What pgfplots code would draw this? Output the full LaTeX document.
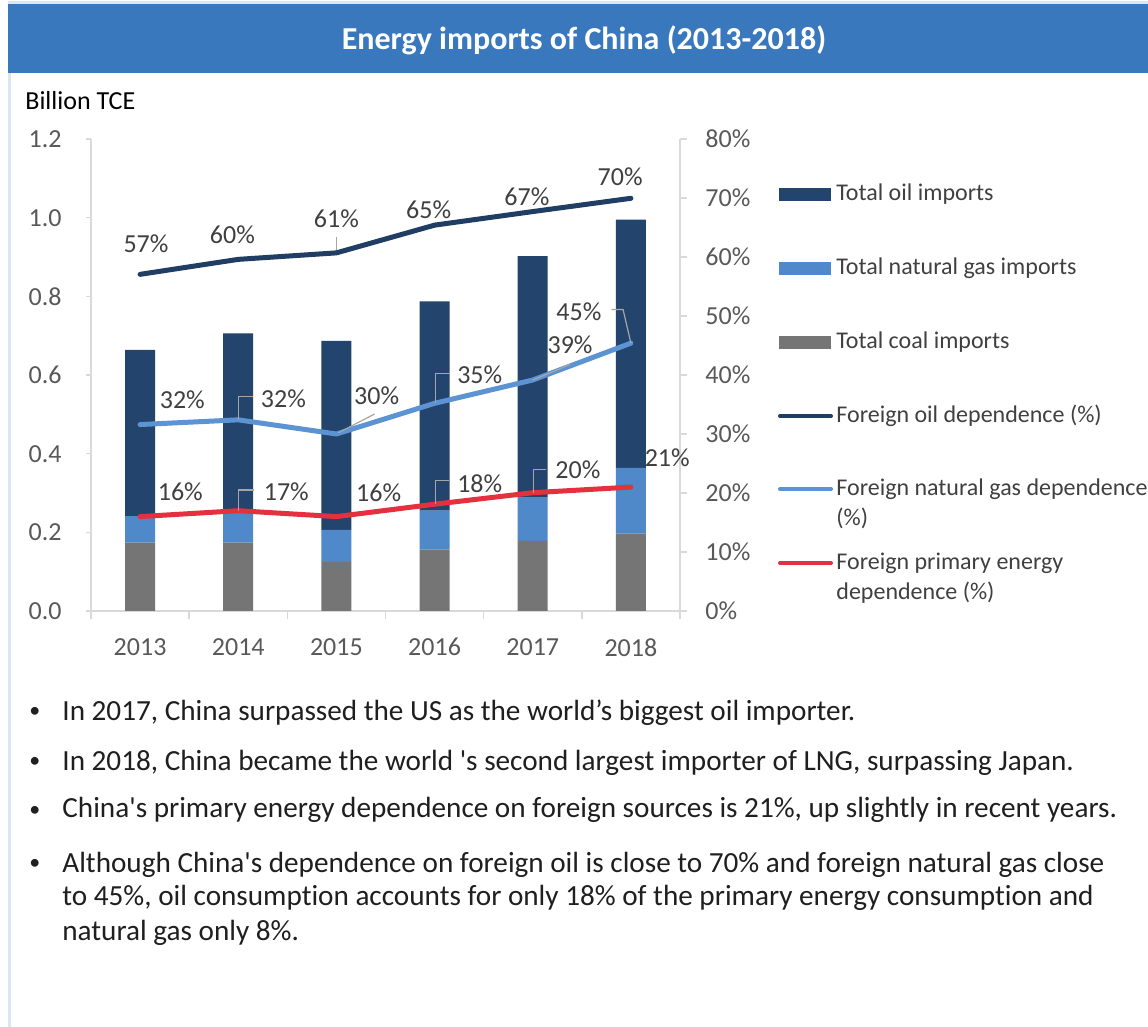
\documentclass[border=0pt]{standalone}
\usepackage{pgfplots}
\pgfplotsset{compat=1.18}
\usepackage{fontspec}
\setmainfont{Carlito}[Ligatures={TeXOff,NoCommon}]

\definecolor{titleblue}{HTML}{3A78BD}
\definecolor{borderblue}{HTML}{DCE6F2}
\definecolor{oilbar}{HTML}{23446C}
\definecolor{gasbar}{HTML}{4F89C9}
\definecolor{coalbar}{HTML}{757575}
\definecolor{oilline}{HTML}{203D64}
\definecolor{gasline}{HTML}{5B93D3}
\definecolor{redline}{HTML}{E5313F}
\definecolor{axisgray}{HTML}{D9D9D9}
\definecolor{tickgray}{HTML}{595959}
\definecolor{labelgray}{HTML}{404040}
\definecolor{leadergray}{HTML}{A6A6A6}

\begin{document}
\begin{tikzpicture}[
  lbl/.style={font=\fontsize{13}{15}\selectfont, text=labelgray, inner sep=0pt},
  leader/.style={leadergray, line width=0.6pt},
  txt/.style={anchor=west, inner sep=0pt, text height=0.64em, text depth=0pt},
]
\path[use as bounding box] (0,0) rectangle (574pt,-513.5pt);

% frame and title (pixel units)
\begin{scope}[x=0.5pt, y=-0.5pt]
  \fill[white] (0,0) rectangle (1148,1027);
  \fill[borderblue] (8,1) rectangle (1148,4);
  \fill[titleblue] (8,4) rectangle (1148,73);
  \fill[borderblue] (8,73) rectangle (11,1027);
  \node[text=white, font=\bfseries\fontsize{16}{18}\selectfont] at (584,40) {Energy imports of China (2013-2018)};
  \node[txt, font=\fontsize{13}{15}\selectfont, text=black] at (25,103) {Billion TCE};
\end{scope}

% bars, left axis
\begin{axis}[
  at={(45.5pt,-305.5pt)}, anchor=south west,
  scale only axis, width=294.5pt, height=236pt,
  xmin=-0.5, xmax=5.5, ymin=0, ymax=1.2,
  ybar stacked, bar width=15pt,
  axis x line*=bottom, axis y line*=left,
  axis line style={axisgray, line width=0.75pt, -},
  xtick={0,1,2,3,4,5},
  xticklabels={2013,2014,2015,2016,2017,2018},
  major x tick style={draw=none},
  minor xtick={-0.5,0.5,1.5,2.5,3.5,4.5,5.5},
  minor tick length=4pt,
  ytick={0,0.2,0.4,0.6,0.8,1.0,1.2},
  yticklabels={0.0,0.2,0.4,0.6,0.8,1.0,1.2},
  tick align=outside, major tick length=2.5pt,
  tick style={axisgray, line width=0.75pt},
  ticklabel style={font=\fontsize{13}{15}\selectfont, text=tickgray},
  xticklabel style={anchor=north, inner sep=0pt, yshift=-11pt},
  yticklabel style={anchor=east, inner sep=0pt, xshift=-12pt},
  /pgf/number format/assume math mode=true,
]
% coal
\addplot[fill=coalbar, draw=none] coordinates {(0,0.174) (1,0.174) (2,0.125) (3,0.156) (4,0.178) (5,0.197)};
% natural gas
\addplot[fill=gasbar, draw=none] coordinates {(0,0.067) (1,0.075) (2,0.081) (3,0.099) (4,0.110) (5,0.167)};
% oil
\addplot[fill=oilbar, draw=none] coordinates {(0,0.423) (1,0.457) (2,0.481) (3,0.532) (4,0.614) (5,0.631)};
\end{axis}

% dependence lines, right axis
\begin{axis}[
  at={(45.5pt,-305.5pt)}, anchor=south west,
  scale only axis, width=294.5pt, height=236pt,
  xmin=-0.5, xmax=5.5, ymin=0, ymax=80,
  axis x line=none, axis y line*=right,
  axis line style={axisgray, line width=0.75pt, -},
  ytick={0,10,20,30,40,50,60,70,80},
  yticklabels={0\%,10\%,20\%,30\%,40\%,50\%,60\%,70\%,80\%},
  tick align=outside, major tick length=3.5pt,
  tick style={axisgray, line width=0.75pt},
  ticklabel style={font=\fontsize{13}{15}\selectfont, text=tickgray},
  yticklabel style={anchor=west, inner sep=0pt, xshift=9pt},
  /pgf/number format/assume math mode=true,
  clip=false,
]
\addplot[oilline, line width=2.5pt, line cap=round, line join=round]
  coordinates {(0,57.06) (1,59.6) (2,60.7) (3,65.4) (4,67.7) (5,69.95)};
\addplot[gasline, line width=2.5pt, line cap=round, line join=round]
  coordinates {(0,31.6) (1,32.4) (2,30.0) (3,35.2) (4,39.15) (5,45.4)};
\addplot[redline, line width=2.5pt, line cap=round, line join=round]
  coordinates {(0,16.0) (1,17.0) (2,16.0) (3,18.1) (4,20.05) (5,21.0)};

% leader lines
\draw[leader] (axis cs:2,61.2) -- (axis cs:2,63.4);
\draw[leader] (axis cs:1.0,32.4) -- (axis cs:1.0,36.3) -- (axis cs:1.15,36.3);
\draw[leader] (axis cs:2.02,30.2) -- (axis cs:2.39,33.4);
\draw[leader] (axis cs:3.01,35.2) -- (axis cs:3.01,40.3) -- (axis cs:3.16,40.3);
\draw[leader] (axis cs:4.0,39.15) -- (axis cs:4.38,41.8);
\draw[leader] (axis cs:4.80,51.1) -- (axis cs:4.92,51.1) -- (axis cs:5.0,45.4);
\draw[leader] (axis cs:1.0,17.0) -- (axis cs:1.0,20.5) -- (axis cs:1.16,20.5);
\draw[leader] (axis cs:3.01,18.1) -- (axis cs:3.01,22.1) -- (axis cs:3.15,22.1);
\draw[leader] (axis cs:4.01,20.05) -- (axis cs:4.01,24.0) -- (axis cs:4.13,24.0);

% data labels
\node[lbl] at (axis cs:0.06,62.3) {57\%};
\node[lbl] at (axis cs:0.94,63.85) {60\%};
\node[lbl] at (axis cs:2.0,66.55) {61\%};
\node[lbl] at (axis cs:2.94,68.0) {65\%};
\node[lbl] at (axis cs:3.94,70.2) {67\%};
\node[lbl] at (axis cs:4.89,73.6) {70\%};
\node[lbl] at (axis cs:0.43,35.8) {32\%};
\node[lbl] at (axis cs:1.46,35.9) {32\%};
\node[lbl] at (axis cs:2.41,36.4) {30\%};
\node[lbl] at (axis cs:3.46,40.0) {35\%};
\node[lbl] at (axis cs:4.38,45.1) {39\%};
\node[lbl] at (axis cs:4.47,50.7) {45\%};
\node[lbl] at (axis cs:0.41,20.2) {16\%};
\node[lbl] at (axis cs:1.49,20.2) {17\%};
\node[lbl] at (axis cs:2.43,20.05) {16\%};
\node[lbl] at (axis cs:3.46,21.6) {18\%};
\node[lbl] at (axis cs:4.46,23.9) {20\%};
\node[lbl] at (axis cs:5.37,26.05) {21\%};
\end{axis}

% legend and notes (pixel units)
\begin{scope}[x=0.5pt, y=-0.5pt, every node/.append style={font=\fontsize{12}{14}\selectfont, text=labelgray}]
  \fill[oilbar] (779,188) rectangle (831,201);
  \fill[gasbar] (779,262) rectangle (831,275);
  \fill[coalbar] (779,336) rectangle (831,349);
  \draw[oilline, line width=2pt, line cap=round] (780,416) -- (831,416);
  \draw[gasline, line width=2pt, line cap=round] (780,489) -- (831,489);
  \draw[redline, line width=2pt, line cap=round] (780,563) -- (831,563);
  \node[txt] at (836,194) {Total oil imports};
  \node[txt] at (836,268) {Total natural gas imports};
  \node[txt] at (836,342) {Total coal imports};
  \node[txt] at (836,416) {Foreign oil dependence (\%)};
  \node[txt] at (836,489) {Foreign natural gas dependence};
  \node[txt] at (836,519) {(\%)};
  \node[txt] at (836,563) {Foreign primary energy};
  \node[txt] at (836,593) {dependence (\%)};
\end{scope}

\begin{scope}[x=0.5pt, y=-0.5pt, every node/.append style={font=\fontsize{14.6}{17}\selectfont, text=black!88, anchor=base west, inner sep=0pt}]
  \node[font=\fontsize{11}{13}\selectfont] at (29,718) {•};
  \node at (62,720) {In 2017, China surpassed the US as the world’s biggest oil importer.};
  \node[font=\fontsize{11}{13}\selectfont] at (29,768) {•};
  \node at (62,770) {In 2018, China became the world 's second largest importer of LNG, surpassing Japan.};
  \node[font=\fontsize{11}{13}\selectfont] at (29,816) {•};
  \node at (62,818) {China's primary energy dependence on foreign sources is 21\%, up slightly in recent years.};
  \node[font=\fontsize{11}{13}\selectfont] at (29,870) {•};
  \node at (62,872) {Although China's dependence on foreign oil is close to 70\% and foreign natural gas close};
  \node at (62,906) {to 45\%, oil consumption accounts for only 18\% of the primary energy consumption and};
  \node at (62,940) {natural gas only 8\%.};
\end{scope}
\end{tikzpicture}
\end{document}
